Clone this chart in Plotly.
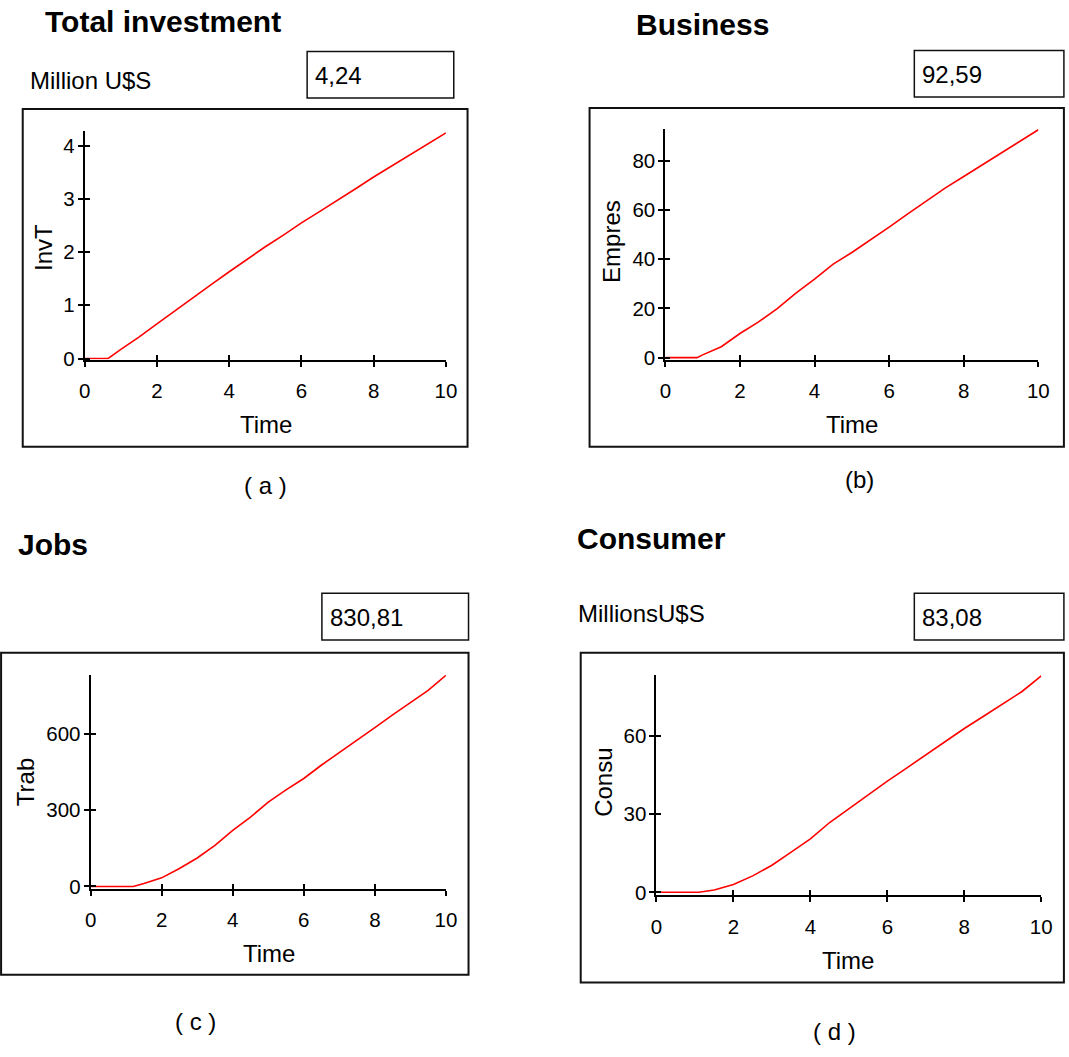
import plotly.graph_objects as go

W, H = 1069, 1057
FONT = "Liberation Sans, Arial, sans-serif"

# ---- data -------------------------------------------------------------
invt_time = [0, 0.65, 1, 1.5, 2, 2.5, 3, 3.5, 4, 4.5, 5, 5.5, 6, 6.5, 7, 7.5, 8, 8.5, 9, 9.5, 10]
invt_vals = [0, 0, 0.17, 0.40, 0.65, 0.90, 1.14, 1.39, 1.63, 1.87, 2.10, 2.32, 2.55, 2.76, 2.97,
             3.19, 3.41, 3.62, 3.83, 4.04, 4.24]

empres_time = [0, 0.85, 1, 1.5, 2, 2.5, 3, 3.5, 4, 4.5, 5, 5.5, 6, 6.5, 7, 7.5, 8, 8.5, 9, 9.5, 10]
empres_vals = [0, 0, 1.1, 4.4, 9.8, 14.5, 19.9, 26.2, 31.9, 38.0, 42.7, 47.7, 53.0, 58.4, 63.5,
               68.9, 73.6, 78.3, 83.0, 87.7, 92.59]

trab_time = [0, 1.2, 1.5, 2, 2.5, 3, 3.5, 4, 4.5, 5, 5.5, 6, 6.5, 7, 7.5, 8, 8.5, 9, 9.5, 10]
trab_vals = [0, 0, 12, 34, 71, 112, 162, 221, 273, 332, 380, 425, 478, 526, 575, 625, 675, 725,
             772, 830.81]

consu_time = [0, 1.1, 1.5, 2, 2.5, 3, 3.5, 4, 4.5, 5, 5.5, 6, 6.5, 7, 7.5, 8, 8.5, 9, 9.5, 10]
consu_vals = [0, 0, 0.9, 3.0, 6.3, 10.4, 15.4, 20.5, 26.8, 32.2, 37.6, 42.7, 47.7, 52.8, 57.8,
              62.9, 67.6, 72.4, 77.1, 83.08]

time_ticks = [0, 2, 4, 6, 8, 10]
invt_ticks = [0, 1, 2, 3, 4]
empres_ticks = [0, 20, 40, 60, 80]
trab_ticks = [0, 300, 600]
consu_ticks = [0, 30, 60]

titles = ["Total investment", "Business", "Jobs", "Consumer"]
units = ["Million U$S", "", "", "MillionsU$S"]
final_values = ["4,24", "92,59", "830,81", "83,08"]
var_names = ["InvT", "Empres", "Trab", "Consu"]
captions = ["( a )", "(b)", "( c )", "( d )"]


def px(x):
    return x / W


def py(y):
    return 1 - y / H


# ---- panel geometry (pixels) -------------------------------------------
panels = [
    dict(t=invt_time, v=invt_vals, yt=invt_ticks, yr=[-0.02, 4.28],
         plot=(80, 447, 132, 363), frame=(17, 110, 469, 451),
         title=(38, 22), unit=(22, 81), box=(306, 52, 455, 99),
         xt=(264, 429), ytl=(38, 250), cap=(264, 490)),
    dict(t=empres_time, v=empres_vals, yt=empres_ticks, yr=[-0.8, 93.0],
         plot=(670, 1049, 130, 363), frame=(593, 109, 1075, 451),
         title=(638, 24.5), unit=None, box=(923, 51, 1075, 98),
         xt=(860, 429), ytl=(615, 244), cap=(867, 484)),
    dict(t=trab_time, v=trab_vals, yt=trab_ticks, yr=[-8, 834],
         plot=(86, 447, 681, 897), frame=(-5, 659, 470, 984),
         title=(10, 549.5), unit=None, box=(321, 599, 470, 646),
         xt=(267, 963), ytl=(20, 790), cap=(193, 1031)),
    dict(t=consu_time, v=consu_vals, yt=consu_ticks, yr=[-1.2, 83.6],
         plot=(661, 1052, 681, 904), frame=(584, 659, 1075, 992),
         title=(578, 544), unit=(579, 619.5), box=(923, 599, 1075, 646),
         xt=(856, 970), ytl=(607, 790), cap=(842, 1041)),
]

fig = go.Figure()
layout = dict(
    width=W, height=H, margin=dict(l=0, r=0, t=0, b=0),
    paper_bgcolor="white", plot_bgcolor="white", showlegend=False,
    font=dict(family=FONT, color="black"),
)
shapes, annotations = [], []

axis_common = dict(showgrid=False, zeroline=False, fixedrange=True,
                   tickcolor="black", tickwidth=2, ticklen=5)
TICK_FONT = dict(size=20.5, color="black", family=FONT)
TEXT_FONT = dict(size=24, family=FONT, color="black")

for i, p in enumerate(panels):
    n = i + 1
    xa, ya = f"x{n}" if n > 1 else "x", f"y{n}" if n > 1 else "y"
    xk, yk = f"xaxis{n}" if n > 1 else "xaxis", f"yaxis{n}" if n > 1 else "yaxis"
    m = n + 4
    x0, x1, y0, y1 = p["plot"]

    fig.add_trace(go.Scatter(x=p["t"], y=p["v"], mode="lines", xaxis=xa, yaxis=ya,
                             line=dict(color="#ff0000", width=1.6), hoverinfo="skip"))
    # empty traces so the companion tick axes get drawn
    fig.add_trace(go.Scatter(x=[None], y=[None], mode="lines", xaxis=f"x{m}", yaxis=ya,
                             hoverinfo="skip"))
    fig.add_trace(go.Scatter(x=[None], y=[None], mode="lines", xaxis=xa, yaxis=f"y{m}",
                             hoverinfo="skip"))

    layout[xk] = dict(domain=[px(x0), px(x1)], range=[0, 10], anchor=ya,
                      showline=True, linecolor="black", linewidth=2,
                      ticks="outside", tickvals=time_ticks, tickfont=TICK_FONT,
                      ticklabelstandoff=7, **axis_common)
    layout[yk] = dict(domain=[py(y1), py(y0)], range=p["yr"], anchor=xa,
                      showline=True, linecolor="black", linewidth=2,
                      ticks="outside", tickvals=p["yt"], tickfont=TICK_FONT,
                      ticklabelstandoff=-1, **axis_common)

    # companion axes supply the inner half of each tick so marks cross the axis line
    layout[f"xaxis{m}"] = dict(overlaying=xa, anchor=ya, side="bottom", range=[0, 10],
                               ticks="inside", tickvals=time_ticks, showticklabels=False,
                               showline=False, **axis_common)
    layout[f"yaxis{m}"] = dict(overlaying=ya, anchor=xa, side="left", range=p["yr"],
                               ticks="inside", tickvals=p["yt"], showticklabels=False,
                               showline=False, **axis_common)

    # outer frame around the graph
    fx0, fy0, fx1, fy1 = p["frame"]
    shapes.append(dict(type="rect", xref="paper", yref="paper",
                       x0=px(fx0), x1=px(fx1), y0=py(fy1), y1=py(fy0),
                       line=dict(color="#111", width=2), layer="below"))

    # readout box with the final value
    bx0, by0, bx1, by1 = p["box"]
    shapes.append(dict(type="rect", xref="paper", yref="paper",
                       x0=px(bx0), x1=px(bx1), y0=py(by1), y1=py(by0),
                       line=dict(color="#111", width=1.5)))
    annotations.append(dict(text=final_values[i], xref="paper", yref="paper",
                            x=px(bx0 + 6), y=py((by0 + by1) / 2 + 1), xanchor="left",
                            yanchor="middle", showarrow=False, font=TEXT_FONT))

    # heading
    tx, ty = p["title"]
    annotations.append(dict(text=f"<b>{titles[i]}</b>", xref="paper", yref="paper",
                            x=px(tx), y=py(ty), xanchor="left", yanchor="middle",
                            showarrow=False, font=dict(size=30, family=FONT, color="black")))

    # unit label
    if p["unit"] is not None:
        ux, uy = p["unit"]
        annotations.append(dict(text=units[i], xref="paper", yref="paper",
                                x=px(ux), y=py(uy), xanchor="left", yanchor="middle",
                                showarrow=False, font=TEXT_FONT))

    # axis titles
    ax_, ay_ = p["xt"]
    annotations.append(dict(text="Time", xref="paper", yref="paper", x=px(ax_), y=py(ay_),
                            xanchor="center", yanchor="middle", showarrow=False,
                            font=TEXT_FONT))
    vx, vy = p["ytl"]
    annotations.append(dict(text=var_names[i], xref="paper", yref="paper", x=px(vx), y=py(vy),
                            xanchor="center", yanchor="middle", textangle=-90, showarrow=False,
                            font=TEXT_FONT))

    # panel caption
    cx, cy = p["cap"]
    annotations.append(dict(text=captions[i], xref="paper", yref="paper", x=px(cx), y=py(cy),
                            xanchor="center", yanchor="middle", showarrow=False,
                            font=TEXT_FONT))

layout["shapes"] = shapes
layout["annotations"] = annotations
fig.update_layout(**layout)

fig.write_html("out.html")
